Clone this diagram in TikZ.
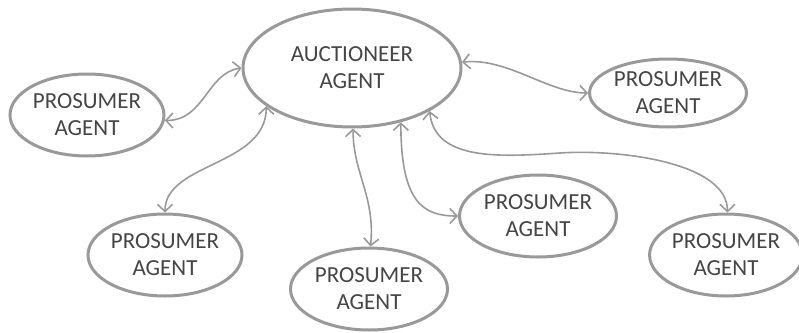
\documentclass[tikz,border=0pt]{standalone}
\usepackage{fontspec}
\setmainfont{Carlito}
\usetikzlibrary{shapes.geometric,arrows.meta}
\definecolor{edgegray}{gray}{0.6}
\definecolor{textgray}{gray}{0.27}
\tikzset{
  agent/.style={ellipse, draw=edgegray, line width=3pt, fill=white, inner sep=0pt,
    text=textgray, align=center, font=\fontsize{23}{27}\selectfont},
  link/.style={draw=edgegray, line width=1.6pt,
    {Straight Barb[length=7pt,width=15pt]}-{Straight Barb[length=7pt,width=15pt]}}
}
\begin{document}
\begin{tikzpicture}[x=1pt,y=-1pt]
\useasboundingbox (0,0) rectangle (799,332);
\node[agent, minimum width=218pt, minimum height=118pt] (auc) at (352,68) {AUCTIONEER\\AGENT};
\node[agent, minimum width=154pt, minimum height=82pt] (pl) at (87,115) {PROSUMER\\AGENT};
\node[agent, minimum width=157pt, minimum height=68pt] (ptr) at (668,93) {PROSUMER\\AGENT};
\node[agent, minimum width=154pt, minimum height=82pt] (pbl) at (165,255) {PROSUMER\\AGENT};
\node[agent, minimum width=157pt, minimum height=82pt] (pbc) at (369,289) {PROSUMER\\AGENT};
\node[agent, minimum width=157pt, minimum height=82pt] (pmr) at (538,216) {PROSUMER\\AGENT};
\node[agent, minimum width=150pt, minimum height=82pt] (pfr) at (726,255) {PROSUMER\\AGENT};

\draw[link] (pl.-4) .. controls +(40,0) and +(-35,5) .. (auc.180);
\draw[link] (auc.204) .. controls +(0,60) and +(0,-50) .. (pbl.90);
\draw[link] (auc.-89) .. controls +(0,45) and +(5,-50) .. (pbc.88);
\draw[link] (auc.-48) .. controls +(0,80) and +(-35,0) .. (pmr.180);
\draw[link] (auc.-29) .. controls +(5,50) and +(-60,4) .. (560,153) .. controls +(60,-4) and +(0,-50) .. (pfr.88);
\draw[link] (auc.3) .. controls +(45,-5) and +(-40,0) .. (ptr.180);
\end{tikzpicture}
\end{document}
